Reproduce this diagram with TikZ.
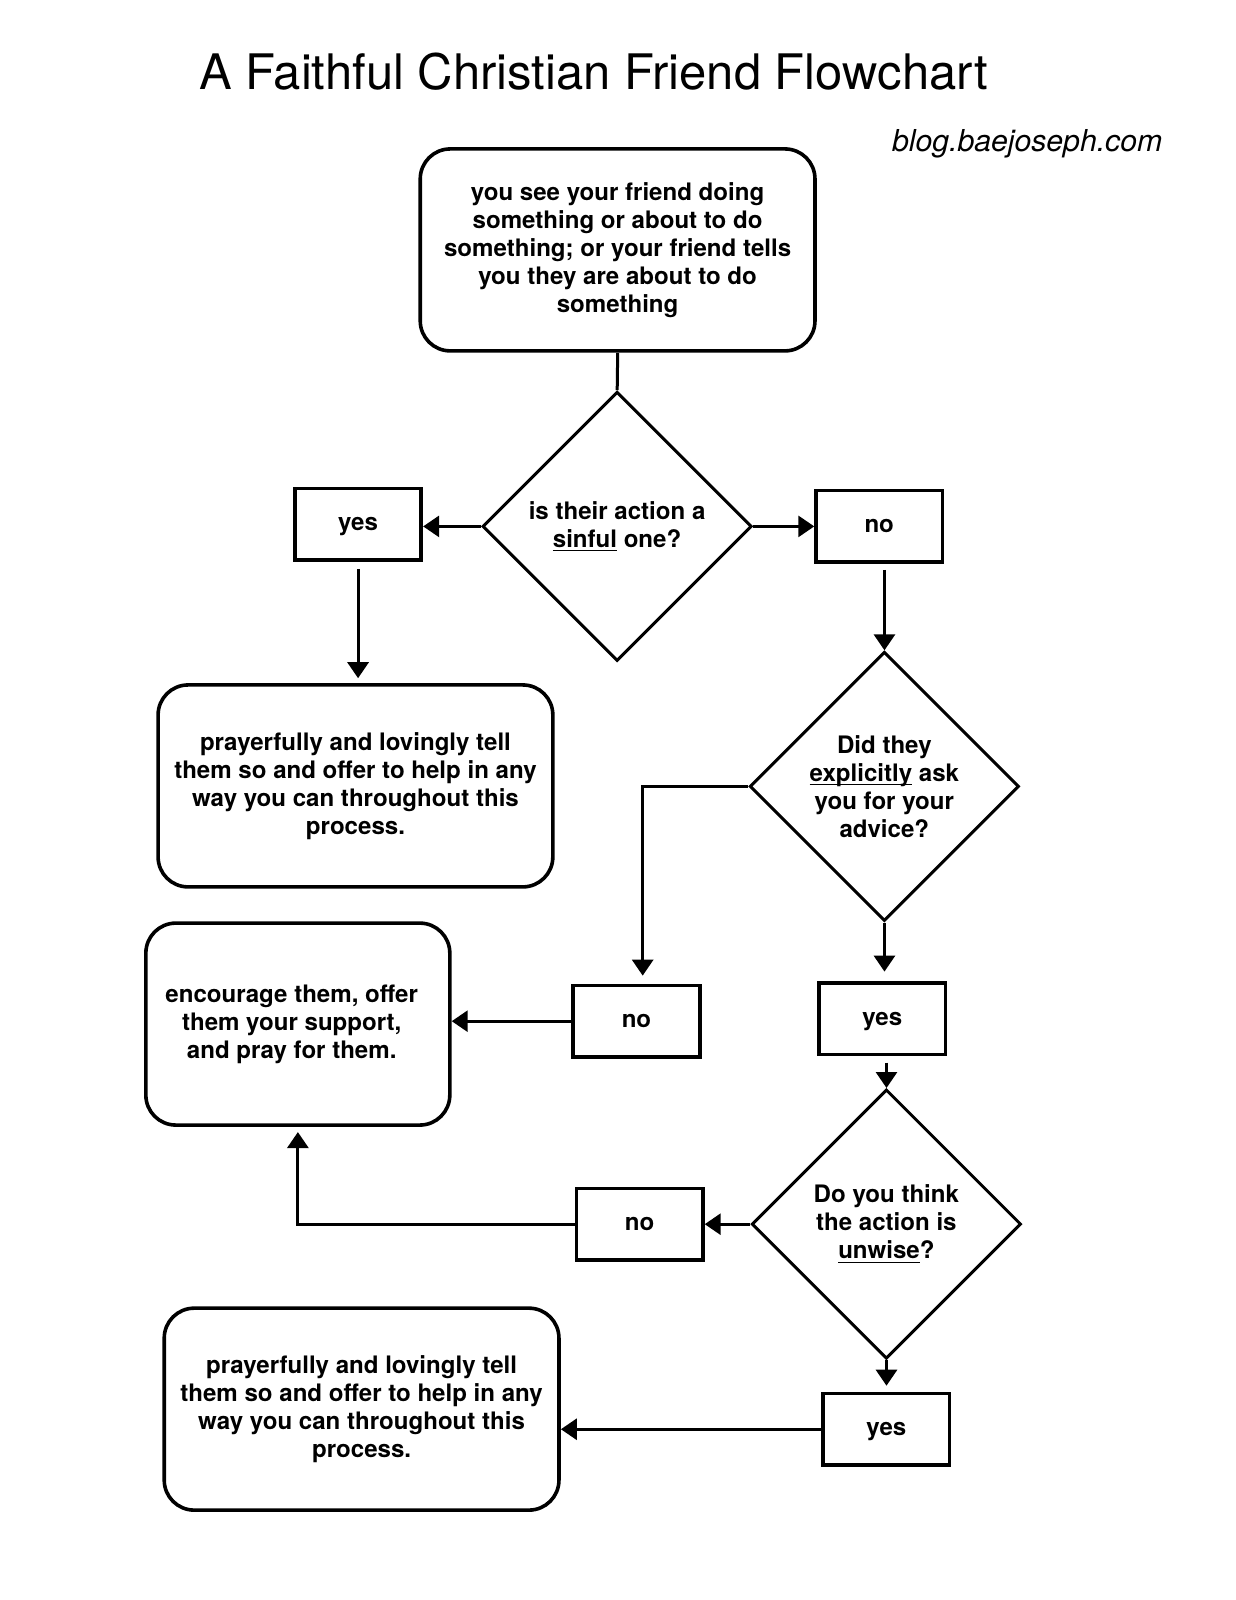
\documentclass[tikz,border=0pt]{standalone}
\usepackage{fontspec}
\setmainfont{TeX Gyre Heros}
\usetikzlibrary{shapes.geometric,arrows.meta}
\newlength\ulw
\newcommand\myul[1]{\settowidth\ulw{#1}\rlap{\rule[-2pt]{\ulw}{0.6pt}}#1}
\begin{document}
\begin{tikzpicture}[x=0.5pt,y=-0.5pt,scale=1.02,transform shape,
  txt/.style={font=\fontsize{11.8pt}{13.75pt}\selectfont\bfseries, align=center},
  bigbox/.style={txt, draw, line width=1.8pt, rounded corners=15pt, minimum width=193.5pt, minimum height=99pt, inner sep=0pt},
  smallbox/.style={txt, draw, line width=1.8pt, minimum width=62pt, minimum height=35pt, inner sep=0pt, text depth=0pt},
  decision/.style={txt, draw, diamond, line width=1.5pt, minimum width=132pt, minimum height=132pt, inner sep=0pt},
  conn/.style={line width=1.5pt},
  arr/.style={conn, -{Triangle[length=8pt,width=10.5pt]}}
]
\fill[white] (0,0) rectangle (1211.76,1568.63);
\useasboundingbox (0,0) rectangle (1211.76,1568.63);

\node[font=\fontsize{24pt}{28pt}\selectfont, anchor=base] (title) at (582,88) {A Faithful Christian Friend Flowchart};
\node[font=\fontsize{14.8pt}{17pt}\selectfont\itshape, anchor=base] (blog) at (1007,149) {blog.baejoseph.com};

\node[bigbox] (start) at (605.5,245) {you see your friend doing\\something or about to do\\something; or your friend tells\\you they are about to do\\something};
\node[decision] (d1) at (605,516) {is their action a\\\myul{sinful} one?};
\node[smallbox] (yes1) at (351,514) {yes};
\node[smallbox] (no1) at (862,516) {no};
\node[bigbox] (tell1) at (348.5,770.5) {prayerfully and lovingly tell\\them so and offer to help in any\\way you can throughout this\\process.};
\node[decision] (d2) at (867,771) {Did they\\\myul{explicitly} ask\\you for your\\advice?};
\node[smallbox] (no2) at (624,1001) {no};
\node[smallbox] (yes2) at (865,999) {yes};
\node[bigbox, minimum width=149pt] (enc) at (292,1004) {\hspace*{-6pt}encourage them, offer\\\hspace*{-6pt}them your support,\\\hspace*{-6pt}and pray for them.};
\node[decision] (d3) at (869,1200) {Do you think\\the action is\\\myul{unwise}?};
\node[smallbox] (no3) at (627,1200) {no};
\node[smallbox] (yes3) at (869,1401) {yes};
\node[bigbox] (tell2) at (354.5,1381.5) {prayerfully and lovingly tell\\them so and offer to help in any\\way you can throughout this\\process.};

\draw[conn] (start.south) -- (d1.north);
\draw[arr] (d1.west) -- (d1.west -| yes1.east);
\draw[arr] (d1.east) -- (d1.east -| no1.west);
\draw[arr, shorten <=3.5pt, shorten >=2.5pt] (yes1.south) -- (yes1.south |- tell1.north);
\draw[arr, shorten <=3pt] (no1.south -| d2.north) -- (d2.north);
\draw[arr, shorten >=4pt] (d2.west) -| ([xshift=3pt]no2.north);
\draw[arr, shorten >=5pt] (d2.south) -- (d2.south |- yes2.north);
\draw[arr] (no2.west) -- (no2.west -| enc.east);
\draw[arr, shorten <=3pt] (yes2.south -| d3.north) -- (d3.north);
\draw[arr] (d3.west) -- (no3.east);
\draw[arr, shorten >=2.5pt] (no3.west) -| (enc.south);
\draw[arr, shorten >=3pt] (d3.south) -- (d3.south |- yes3.north);
\draw[arr] (yes3.west) -- (yes3.west -| tell2.east);
\end{tikzpicture}
\end{document}
